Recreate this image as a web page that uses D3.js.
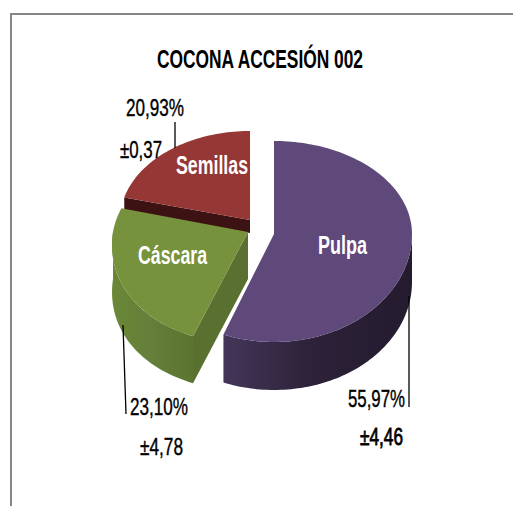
<!DOCTYPE html>
<html>
<head>
<meta charset="utf-8">
<style>
html,body{margin:0;padding:0;background:#fff}
svg{display:block}
text{font-family:"Liberation Sans Narrow","Liberation Sans",Arial,sans-serif}
</style>
<script src="https://cdn.jsdelivr.net/npm/d3@7/dist/d3.min.js"></script>
</head>
<body>
<svg id="chart" width="513" height="506"></svg>
<script>
// Composition of the cocona fruit, accession 002
const chartTitle = "COCONA ACCESIÓN 002";
const categories = ["Pulpa", "Cáscara", "Semillas"];
const percentages = [55.97, 23.10, 20.93];
const percentLabels = ["55,97%", "23,10%", "20,93%"];
const errorLabels = ["±4,46", "±4,78", "±0,37"];

// Each wedge is pulled out on its own, so each has its own ellipse.
// "spread" widens the near part of the rim and narrows the far part, for perspective.
const wedgeGeometry = [
  {cx: 274, cy: 234, rx: 138, ryUp: 93, ryDown: 108, depth: 48, spread: 0},
  {cx: 248, cy: 232, rx: 135, ryUp: 94, ryDown: 112, depth: 47, spread: 0.12},
  {cx: 250, cy: 220, rx: 130, ryUp: 89, ryDown: 100, depth: 13, spread: 0}
];
const wedgeColors = [
  {top: "#5f497a", inner: "#3f3151", wall: ["#443659", "#2d2239", "#241b2f"]},
  {top: "#76923c", inner: "#5a7030", wall: ["#6a8636", "#64803a", "#5c7431"]},
  {top: "#953735", inner: "#3c1212", wall: ["#632423", "#632423", "#632423"]}
];
const labelStyles = [
  {x: 342.5, y: 254, width: 49},
  {x: 172.5, y: 264, width: 69},
  {x: 212, y: 174, width: 72}
];
const percentStyles = [
  {x: 348, y: 407, width: 57},
  {x: 130, y: 415, width: 58},
  {x: 126, y: 116, width: 58}
];
const errorStyles = [
  {x: 360, y: 445, width: 43},
  {x: 140, y: 455, width: 43},
  {x: 120, y: 158, width: 42}
];
const leaderLines = [
  [[409, 296], [409, 407]],
  [[123, 325], [126, 414]],
  [[175, 122], [175, 148]]
];

const svg = d3.select("#chart");
const defs = svg.append("defs");

const slices = d3.pie().sort(null).startAngle(0).endAngle(2 * Math.PI)(percentages);

// Tilted-disc projection: an angle clockwise from twelve o'clock onto the wedge's rim
const project = (g, a, drop = 0) => {
  const c = Math.cos(a);
  return [
    g.cx + g.rx * Math.sin(a) * (1 - g.spread * c),
    g.cy - c * (c > 0 ? g.ryUp : g.ryDown) + drop
  ];
};
const rim = (g, a0, a1, drop = 0) => {
  const n = Math.max(2, Math.ceil(Math.abs(a1 - a0) * 40));
  return d3.range(n + 1).map(i => project(g, a0 + (a1 - a0) * i / n, drop));
};
const line = d3.line();

const wedges = slices.map((s, i) => ({slice: s, i, g: wedgeGeometry[i], c: wedgeColors[i]}));

// Back to front: seeds, pulp, then the peel that overlaps the seed wall
[2, 0, 1].forEach(i => {
  const {slice, g, c} = wedges[i];
  const layer = svg.append("g").attr("class", "wedge");

  // Outer wall, only on the half of the rim that faces the viewer
  const a0 = Math.max(slice.startAngle, Math.PI / 2);
  const a1 = Math.min(slice.endAngle, 3 * Math.PI / 2);
  if (a1 > a0) {
    const top = rim(g, a0, a1);
    const bottom = rim(g, a1, a0, g.depth);
    const xs = top.map(p => p[0]);
    const grad = defs.append("linearGradient")
      .attr("id", "wall" + i)
      .attr("gradientUnits", "userSpaceOnUse")
      .attr("x1", d3.min(xs)).attr("x2", d3.max(xs))
      .attr("y1", 0).attr("y2", 0);
    c.wall.forEach((col, k) => {
      grad.append("stop").attr("offset", [0, 0.45, 1][k]).attr("stop-color", col);
    });
    layer.append("path")
      .attr("d", line(top.concat(bottom)) + "Z")
      .attr("fill", `url(#wall${i})`);
  }

  // Cut faces that can be seen from the front
  if (i !== 0) {
    const tip = project(g, slice.startAngle);
    layer.append("path")
      .attr("d", line([[g.cx, g.cy], tip, [tip[0], tip[1] + g.depth], [g.cx, g.cy + g.depth]]) + "Z")
      .attr("fill", c.inner);
  }

  // Top face
  layer.append("path")
    .attr("d", line([[g.cx, g.cy]].concat(rim(g, slice.startAngle, slice.endAngle))) + "Z")
    .attr("fill", c.top);
});

// Chart frame: top and left rules only
svg.append("path")
  .attr("d", "M513,14H11V506")
  .attr("fill", "none")
  .attr("stroke", "#868686")
  .attr("stroke-width", 2);

// Fitted text: narrow face pressed to a measured width
const fitted = (str, st, size, weight, fill, halo) => svg.append("text")
  .attr("x", st.x).attr("y", st.y)
  .attr("font-size", size).attr("font-weight", weight).attr("fill", fill)
  .attr("stroke", halo ? fill : "none").attr("stroke-width", halo)
  .attr("textLength", st.width).attr("lengthAdjust", "spacingAndGlyphs")
  .text(str);

fitted(chartTitle, {x: 157, y: 67.5, width: 206}, 25, "bold", "#000", 0);

categories.forEach((name, i) => {
  const st = labelStyles[i];
  fitted(name, {x: st.x - st.width / 2, y: st.y, width: st.width}, 25, "bold", "#fff", 0);
  fitted(percentLabels[i], percentStyles[i], 24, "normal", "#000", 0.4);
  fitted(errorLabels[i], errorStyles[i], 24, "normal", "#000", i === 0 ? 0.8 : 0.4);
  svg.append("path")
    .attr("d", line(leaderLines[i]))
    .attr("fill", "none")
    .attr("stroke", "#000")
    .attr("stroke-width", 1.3);
});
</script>
</body>
</html>
